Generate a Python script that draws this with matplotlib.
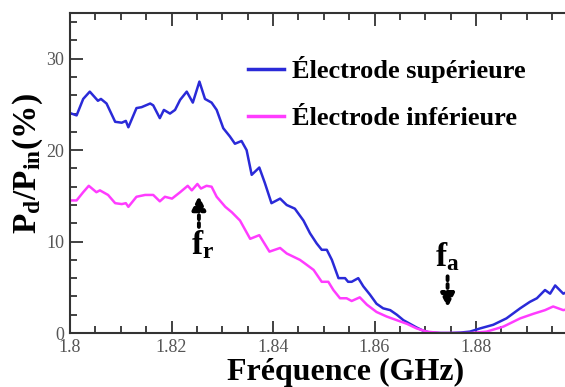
import matplotlib
matplotlib.use("Agg")
import matplotlib.pyplot as plt
from matplotlib.ticker import MultipleLocator

# Frequency (GHz) and power ratio (%)
freq_sup = [1.8003, 1.8013, 1.8026, 1.8039, 1.8055, 1.8061, 1.8072, 1.8089, 1.8102, 1.8110,
            1.8115, 1.8131, 1.8141, 1.8158, 1.8164, 1.8177, 1.8185, 1.8197, 1.8207, 1.8217,
            1.8230, 1.8242, 1.8255, 1.8266, 1.8279, 1.8289, 1.8302, 1.8315, 1.8325, 1.8338,
            1.8348, 1.8358, 1.8373, 1.8384, 1.8397, 1.8414, 1.8427, 1.8443, 1.8460, 1.8473,
            1.8486, 1.8496, 1.8506, 1.8516, 1.8529, 1.8542, 1.8548, 1.8555, 1.8568, 1.8578,
            1.8591, 1.8604, 1.8617, 1.8631, 1.8644, 1.8657, 1.8670, 1.8683, 1.8696, 1.8709,
            1.8730, 1.8749, 1.8770, 1.8788, 1.8808, 1.8834, 1.8860, 1.8887, 1.8906, 1.8920,
            1.8936, 1.8946, 1.8956, 1.8972, 1.8980]
p_sup = [24.0, 23.8, 25.6, 26.4, 25.4, 25.6, 25.1, 23.1, 23.0, 23.2,
         22.5, 24.6, 24.7, 25.1, 24.9, 23.5, 24.4, 24.0, 24.4, 25.5,
         26.4, 25.2, 27.5, 25.6, 25.2, 24.4, 22.4, 21.5, 20.7, 21.0,
         20.0, 17.3, 18.1, 16.4, 14.2, 14.7, 14.0, 13.6, 12.3, 10.9,
         9.8, 9.1, 9.1, 8.0, 6.0, 6.0, 5.6, 5.6, 6.0, 5.1,
         4.2, 3.2, 2.7, 2.5, 2.0, 1.4, 1.0, 0.6, 0.25, 0.05,
         0.0, 0.0, 0.05, 0.15, 0.5, 0.9, 1.6, 2.7, 3.4, 3.8,
         4.7, 4.3, 5.2, 4.3, 4.5]

freq_inf = [1.8003, 1.8013, 1.8026, 1.8037, 1.8052, 1.8059, 1.8075, 1.8089, 1.8102, 1.8110,
            1.8115, 1.8131, 1.8148, 1.8164, 1.8177, 1.8187, 1.8201, 1.8217, 1.8232, 1.8240,
            1.8251, 1.8258, 1.8269, 1.8279, 1.8289, 1.8306, 1.8319, 1.8335, 1.8355, 1.8373,
            1.8393, 1.8414, 1.8427, 1.8453, 1.8463, 1.8480, 1.8496, 1.8509, 1.8519, 1.8532,
            1.8545, 1.8555, 1.8571, 1.8585, 1.8604, 1.8624, 1.8644, 1.8664, 1.8683, 1.8703,
            1.8730, 1.8760, 1.8790, 1.8821, 1.8854, 1.8887, 1.8913, 1.8936, 1.8952, 1.8972,
            1.8980]
p_inf = [14.5, 14.5, 15.4, 16.1, 15.4, 15.6, 15.1, 14.2, 14.1, 14.2,
         13.8, 14.9, 15.1, 15.1, 14.4, 14.9, 14.7, 15.4, 16.1, 15.6,
         16.3, 15.8, 16.1, 16.0, 14.9, 13.8, 13.2, 12.3, 10.3, 10.7,
         8.9, 9.3, 8.7, 8.0, 7.6, 6.9, 5.6, 5.6, 4.7, 3.8,
         3.8, 3.5, 3.9, 3.1, 2.3, 1.8, 1.4, 1.0, 0.5, 0.15,
         0.0, 0.0, 0.0, 0.15, 0.7, 1.6, 2.1, 2.5, 2.9, 2.5,
         2.6]

labels = ["Électrode supérieure", "Électrode inférieure"]
colors = ["#2a2ad8", "#ff3cff"]

plt.rcParams["font.family"] = ["Liberation Serif", "DejaVu Serif"]
plt.rcParams["mathtext.fontset"] = "custom"
plt.rcParams["mathtext.rm"] = "Liberation Serif"
plt.rcParams["mathtext.bf"] = "Liberation Serif:bold"
plt.rcParams["mathtext.it"] = "Liberation Serif:italic"

fig = plt.figure(figsize=(5.65, 3.87), dpi=100)
ax = fig.add_axes([70 / 565, 54 / 387, 507.5 / 565, 320 / 387])

ax.plot(freq_sup, p_sup, color=colors[0], lw=1.8, label=labels[0])
ax.plot(freq_inf, p_inf, color=colors[1], lw=1.8, label=labels[1])

ax.set_xlim(1.8, 1.9)
ax.set_ylim(0, 35)
ax.xaxis.set_major_locator(MultipleLocator(0.02))
ax.xaxis.set_minor_locator(MultipleLocator(0.005))
ax.yaxis.set_major_locator(MultipleLocator(10))
ax.yaxis.set_minor_locator(MultipleLocator(2))
ax.set_xticks([1.8, 1.82, 1.84, 1.86, 1.88])
ax.set_xticklabels(["1.8", "1.82", "1.84", "1.86", "1.88"])
ax.set_yticks([0, 10, 20, 30])
ax.tick_params(which="both", direction="in", top=True, right=True,
               labelcolor="#555555", labelsize=13, width=1.3, color="#333333")
ax.tick_params(which="major", length=9, pad=4)
ax.tick_params(which="minor", length=5)
for s in ax.spines.values():
    s.set_linewidth(1.5)
    s.set_color("#333333")

ax.set_xlabel("Fréquence (GHz)", fontsize=23, fontweight="bold", va="center")
ax.xaxis.set_label_coords(0.542, -0.122)
ax.set_ylabel(r"$\mathbf{P_d/P_{in}(\%)}$", fontsize=24, va="center")
ax.yaxis.set_label_coords(-0.083, 0.53)

leg = ax.legend(loc="upper left", bbox_to_anchor=(0.303, 0.94), frameon=False,
                prop={"weight": "bold", "size": 19}, handlelength=1.4,
                handletextpad=0.3, labelspacing=0.9)
for line in leg.get_lines():
    line.set_linewidth(2.5)

arrow = dict(arrowstyle="-|>", linestyle=(0, (1, 1)), lw=2.8, color="black",
             mutation_scale=20, shrinkA=0, shrinkB=0)
ax.annotate("", xy=(1.8254, 15.0), xytext=(1.8254, 11.6), arrowprops=arrow)
ax.text(1.8262, 9.6, r"$\mathbf{f_r}$", fontsize=24, ha="center", va="center")
ax.annotate("", xy=(1.8744, 2.8), xytext=(1.8744, 6.2), arrowprops=arrow)
ax.text(1.8744, 8.3, r"$\mathbf{f_a}$", fontsize=24, ha="center", va="center")

fig.savefig("out.png", dpi=100)
